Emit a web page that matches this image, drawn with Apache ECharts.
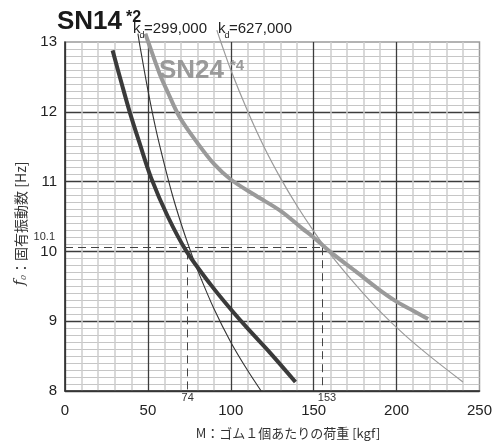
<!DOCTYPE html>
<html>
<head>
<meta charset="utf-8">
<script src="https://cdn.jsdelivr.net/npm/echarts@6/dist/echarts.min.js"></script>
<style>
  html, body { margin: 0; padding: 0; background: #fff; }
  #chart { width: 495px; height: 441px; }
</style>
</head>
<body>
<div id="chart"></div>
<script>
// 軸
const loadTicks = [0, 50, 100, 150, 200, 250];
const freqTicks = [8, 9, 10, 11, 12, 13];

// SN14 実測（太線・濃）
const sn14Load = [28.7, 34, 39, 45, 52, 62, 73.3, 88, 100, 110, 124, 139];
const sn14Freq = [12.88, 12.42, 12.0, 11.55, 11.05, 10.5, 10.0, 9.52, 9.17, 8.9, 8.54, 8.13];

// kd=299,000（細線・濃）
const kd299Load = [44.0, 45, 50, 55, 60, 65, 70, 75, 80, 90, 100, 110, 118.3];
const kd299Freq = [13.12, 12.97, 12.31, 11.73, 11.24, 10.79, 10.40, 10.05, 9.73, 9.17, 8.70, 8.30, 8.0];

// SN24 実測（太線・淡）
const sn24Load = [48.5, 50.2, 57, 62, 69, 80, 90, 100, 115, 130, 143, 150, 159.6, 175, 189, 200, 210, 219];
const sn24Freq = [13.12, 13.0, 12.55, 12.28, 11.93, 11.55, 11.25, 11.03, 10.8, 10.58, 10.33, 10.2, 10.0, 9.72, 9.46, 9.28, 9.15, 9.03];

// kd=627,000（細線・淡）
const kd627Load = [91.6, 94, 100, 110, 120, 130, 140, 150, 160, 175, 190, 205, 220, 240];
const kd627Freq = [13.17, 13.0, 12.60, 12.02, 11.50, 11.05, 10.65, 10.29, 9.96, 9.53, 9.14, 8.80, 8.50, 8.13];

// 補助線（破線）
const guideLoad = [74, 155];
const guideLoadText = ['74', '153'];
const guideFreq = 10.06;
const guideFreqText = '10.1';

const LATIN = 'Liberation Sans, Arial, sans-serif';
const JP = 'Noto Sans CJK JP, sans-serif';

const pairs = (xs, ys) => xs.map((x, i) => [x, ys[i]]);

const chart = echarts.init(document.getElementById('chart'));

const lineSeries = (name, xs, ys, color, width, extra) => Object.assign({
    name: name,
    type: 'line',
    data: pairs(xs, ys),
    showSymbol: false,
    smooth: 0.35,
    clip: false,
    silent: true,
    lineStyle: { color: color, width: width },
    zlevel: 1,
    z: 5
}, extra || {});

const option = {
    animation: false,
    grid: {
        left: 65, right: 15, top: 42, bottom: 50,
        show: true, borderColor: '#9a9a9a', borderWidth: 1.5
    },
    xAxis: {
        type: 'value',
        z: 0,
        min: loadTicks[0], max: loadTicks[loadTicks.length - 1], interval: 50,
        axisLine: { lineStyle: { color: '#333', width: 1.5 } },
        axisTick: { show: false },
        axisLabel: { color: '#222', fontSize: 15, fontFamily: LATIN, margin: 12 },
        splitLine: { show: true, showMaxLine: false, lineStyle: { color: '#3c3c3c', width: 1.3 } },
        minorTick: { show: false, splitNumber: 5 },
        minorSplitLine: { show: true, lineStyle: { color: '#cdcdcd', width: 1.5 } }
    },
    yAxis: {
        type: 'value',
        z: 0,
        min: freqTicks[0], max: freqTicks[freqTicks.length - 1], interval: 1,
        axisLine: { show: true, lineStyle: { color: '#333', width: 1.5 } },
        axisTick: { show: false },
        axisLabel: { color: '#222', fontSize: 15, fontFamily: LATIN, margin: 8 },
        splitLine: { show: true, showMaxLine: false, lineStyle: { color: '#3c3c3c', width: 1.3 } },
        minorTick: { show: false, splitNumber: 10 },
        minorSplitLine: { show: true, lineStyle: { color: '#c6c6c6', width: 1.2 } },
        name: '{f|f}{s|0}：固有振動数 [Hz]',
        nameLocation: 'middle',
        nameRotate: 90,
        nameGap: 37,
        nameTextStyle: {
            color: '#333', fontSize: 14, fontFamily: JP, padding: [0, 14, 0, 0],
            rich: {
                f: { fontFamily: 'DejaVu Serif', fontStyle: 'italic', fontSize: 15, color: '#333' },
                s: { fontFamily: 'DejaVu Serif', fontStyle: 'italic', fontSize: 8, color: '#333', verticalAlign: 'bottom' }
            }
        }
    },
    series: [
        lineSeries('kd299', kd299Load, kd299Freq, '#333', 1.1),
        lineSeries('kd627', kd627Load, kd627Freq, '#9a9a9a', 1.2),
        lineSeries('SN24', sn24Load, sn24Freq, '#9a9a9a', 4),
        lineSeries('SN14', sn14Load, sn14Freq, '#3a3a3a', 4, {
            markLine: {
                silent: true,
                symbol: 'none',
                label: { show: false },
                lineStyle: { color: '#444', width: 1, type: [8, 5] },
                data: [
                    [{ coord: [loadTicks[0], guideFreq] }, { coord: [guideLoad[1], guideFreq] }],
                    [{ coord: [guideLoad[0], 10.0] }, { coord: [guideLoad[0], freqTicks[0]] }],
                    [{ coord: [guideLoad[1], guideFreq] }, { coord: [guideLoad[1], freqTicks[0]] }]
                ]
            }
        })
    ]
};

chart.setOption(option);

// 見出し・注記
const txt = (text, x, y, font, fill, align) => ({
    type: 'text',
    silent: true,
    zlevel: 1,
    style: { text: text, x: x, y: y, font: font, fill: fill || '#222', textAlign: align || 'left', textVerticalAlign: 'middle' }
});

const p0 = chart.convertToPixel({ gridIndex: 0 }, [guideLoad[0], freqTicks[0]]);
const p1 = chart.convertToPixel({ gridIndex: 0 }, [guideLoad[1] + 3, freqTicks[0]]);
const pf = chart.convertToPixel({ gridIndex: 0 }, [loadTicks[0], guideFreq]);

chart.setOption({
    graphic: [
        txt('SN14', 57, 22, 'bold 26px ' + LATIN, '#1a1a1a'),
        txt('*2', 126, 18, 'bold 16px ' + LATIN, '#1a1a1a'),
        txt('k', 133, 29, '15px ' + LATIN, '#222'),
        txt('d', 139.5, 36, '9px ' + LATIN, '#222'),
        txt('=299,000', 144, 29, '15px ' + LATIN, '#222'),
        txt('k', 218, 29, '15px ' + LATIN, '#222'),
        txt('d', 224.5, 36, '9px ' + LATIN, '#222'),
        txt('=627,000', 229, 29, '15px ' + LATIN, '#222'),
        txt('SN24', 159, 71, 'bold 26px ' + LATIN, '#9a9a9a'),
        txt('*4', 230, 66, 'bold 15px ' + LATIN, '#9a9a9a'),
        txt(guideLoadText[0], p0[0], p0[1] + 7, '11px ' + LATIN, '#333', 'center'),
        txt(guideLoadText[1], p1[0], p1[1] + 7, '11px ' + LATIN, '#333', 'center'),
        txt(guideFreqText, pf[0] - 10, pf[1] - 10, '11px ' + LATIN, '#333', 'right'),
        txt('M：ゴム１個あたりの荷重 [kgf]', 288, 433, '13px ' + JP, '#333', 'center')
    ]
});
</script>
</body>
</html>
